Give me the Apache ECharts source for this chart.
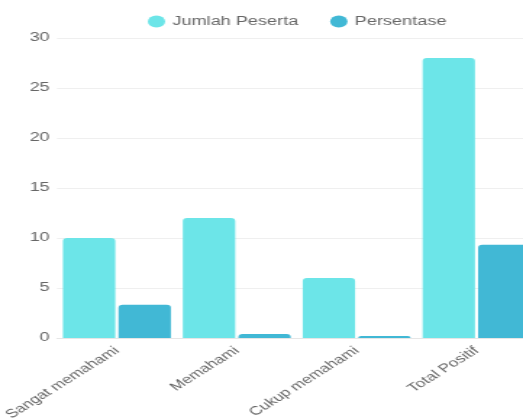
<!DOCTYPE html>
<html>
<head>
<meta charset="utf-8">
<script src="https://cdn.jsdelivr.net/npm/echarts@6/dist/echarts.min.js"></script>
<style>
  html, body { margin: 0; padding: 0; background: #fff; overflow: hidden; }
  /* the reference is a horizontally stretched render, so draw narrow and stretch */
  #main { width: 361px; height: 419px; transform: scaleX(1.4488); transform-origin: 0 0; }
</style>
</head>
<body>
<div id="main"></div>
<script>
// data
var categories = ['Sangat memahami', 'Memahami', 'Cukup memahami', 'Total Positif'];
var jumlahPeserta = [10, 12, 6, 28];
var persentase = [3.33, 0.4, 0.2, 9.33];
var yTicks = { min: 0, max: 30, interval: 5 };

window.onload = function() {
    var font = 'Liberation Sans, Arial, sans-serif';
    var myChart = echarts.init(document.getElementById('main'));
    var option = {
        animation: false,
        textStyle: { fontFamily: font },
        legend: {
            left: 97,
            top: 10,
            icon: 'circle',
            itemWidth: 12,
            itemHeight: 12,
            itemGap: 22,
            textStyle: { color: '#666', fontSize: 12.5, fontFamily: font },
            data: ['Jumlah Peserta', 'Persentase']
        },
        grid: {
            left: 39.3,
            top: 38,
            width: 331,
            height: 300,
            containLabel: false,
            outerBoundsMode: 'none'
        },
        xAxis: {
            type: 'category',
            data: categories,
            axisLine: { lineStyle: { color: '#e6e6e6' } },
            axisTick: { show: false },
            axisLabel: {
                rotate: 42,
                margin: 11,
                color: '#666',
                fontSize: 12,
                fontFamily: font,
                interval: 0
            }
        },
        yAxis: {
            type: 'value',
            min: yTicks.min,
            max: yTicks.max,
            interval: yTicks.interval,
            axisLine: { show: false },
            axisTick: { show: false },
            splitLine: { lineStyle: { color: '#efefef' } },
            axisLabel: { color: '#666', fontSize: 12.5, fontFamily: font, margin: 5 }
        },
        series: [
            {
                name: 'Jumlah Peserta',
                type: 'bar',
                data: jumlahPeserta,
                barGap: '6%',
                barCategoryGap: '10%',
                itemStyle: { color: '#6ce5e8', borderRadius: [3, 3, 0, 0] }
            },
            {
                name: 'Persentase',
                type: 'bar',
                data: persentase,
                itemStyle: { color: '#41b8d5', borderRadius: [3, 3, 0, 0] }
            }
        ]
    };
    myChart.setOption(option);
};
</script>
</body>
</html>
